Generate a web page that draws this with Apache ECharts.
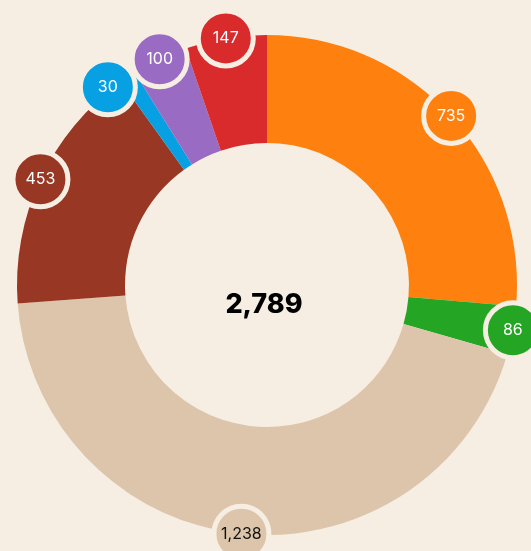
<!DOCTYPE html>
<html>
<head>
<meta charset="utf-8">
<script src="https://cdn.jsdelivr.net/npm/echarts@6/dist/echarts.min.js"></script>
<style>
  html, body { margin: 0; padding: 0; background: #f6eee3; }
  #chart { width: 531px; height: 551px; }
</style>
</head>
<body>
<div id="chart"></div>
<script>
// slices, clockwise from 12 o'clock
let names = ['a', 'b', 'c', 'd', 'e', 'f', 'g'];
let values = [735, 86, 1238, 453, 30, 100, 147];
let colors = ['#fe800f', '#24a524', '#dcc5aa', '#983824', '#07a0e2', '#9a6bc2', '#d92a2c'];
let labelColors = ['#fff', '#fff', '#111', '#fff', '#fff', '#fff', '#fff'];

let bg = '#f6eee3';
let total = values.reduce((a, b) => a + b, 0);

// label bubbles sit on the outer edge at each slice's mid value
let bubbles = [];
let run = 0;
for (let i = 0; i < values.length; i++) {
  let mid = run + values[i] / 2;
  run += values[i];
  let item = {
    value: [1, mid],
    label: { formatter: values[i].toLocaleString('en-US'), color: labelColors[i] },
    itemStyle: { color: colors[i] }
  };
  // small value gets nudged so it doesn't collide with its neighbour
  if (values[i] === 30) item.symbolOffset = [-20, 10];
  bubbles.push(item);
}

let myChart = echarts.init(document.getElementById('chart'));
let option = {
  backgroundColor: bg,
  animation: false,
  title: {
    text: total.toLocaleString('en-US'),
    left: 259,
    top: 286,
    textAlign: 'center',
    textStyle: { fontFamily: 'Inter', fontWeight: 800, fontSize: 27, color: '#000' }
  },
  polar: { center: [267, 285], radius: 250 },
  angleAxis: { type: 'value', min: 0, max: total, startAngle: 90, clockwise: true, show: false },
  radiusAxis: { type: 'value', min: 0, max: 1, show: false },
  series: [
    {
      type: 'pie',
      center: [267, 285],
      radius: [142, 250],
      startAngle: 90,
      clockwise: true,
      label: { show: false },
      labelLine: { show: false },
      emphasis: { disabled: true },
      data: values.map((v, i) => ({ name: names[i], value: v, itemStyle: { color: colors[i] } }))
    },
    {
      type: 'scatter',
      coordinateSystem: 'polar',
      symbol: 'circle',
      symbolSize: 55,
      z: 5,
      itemStyle: { borderColor: bg, borderWidth: 5, opacity: 1 },
      label: {
        show: true,
        position: 'inside',
        fontFamily: 'Inter',
        fontSize: 16,
        fontWeight: 400
      },
      emphasis: { disabled: true },
      data: bubbles
    }
  ]
};
myChart.setOption(option);
</script>
</body>
</html>
